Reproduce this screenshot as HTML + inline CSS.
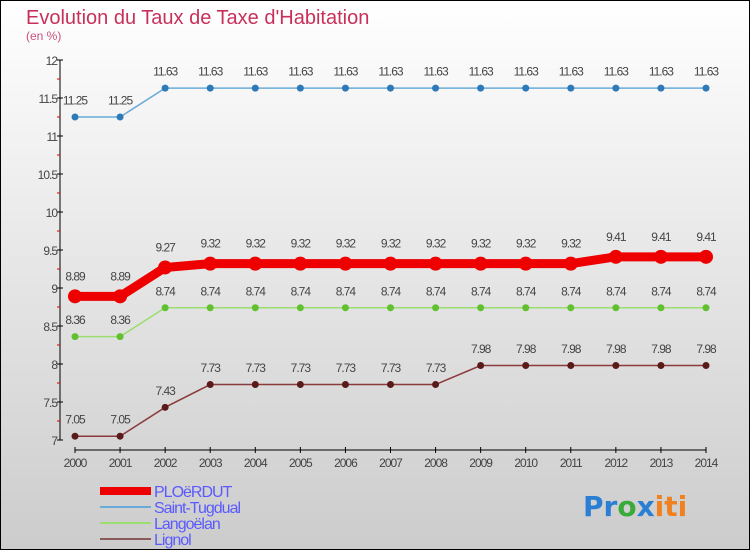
<!DOCTYPE html>
<html><head><meta charset="utf-8">
<style>
html,body{margin:0;padding:0}
body{width:750px;height:550px;overflow:hidden;font-family:"Liberation Sans",sans-serif}
</style></head>
<body>
<svg width="750" height="550" xmlns="http://www.w3.org/2000/svg" id="svg">
<defs>
<linearGradient id="bg" x1="0" y1="0" x2="0" y2="1">
<stop offset="0" stop-color="#ffffff"/><stop offset="1" stop-color="#cccccc"/>
</linearGradient>
</defs>
<rect x="0.5" y="0.5" width="749" height="549" fill="url(#bg)" stroke="#000"/>
<text x="26" y="24" font-size="20" fill="#c8305c">Evolution du Taux de Taxe d'Habitation</text>
<text x="26" y="40" font-size="12" fill="#c8507c">(en %)</text>
<g id="axes"></g>
<g id="series"></g>
<g id="legend"></g>
<text x="583" y="516" font-size="28" font-weight="bold" font-family="DejaVu Sans, sans-serif"><tspan fill="#2a7fd4">Pr</tspan><tspan fill="#3aaa3a">o</tspan><tspan fill="#2a7fd4">x</tspan><tspan fill="#f08020">iti</tspan></text>
</svg>
<script>
const years=[2000,2001,2002,2003,2004,2005,2006,2007,2008,2009,2010,2011,2012,2013,2014];
const yTicks=[7,7.5,8,8.5,9,9.5,10,10.5,11,11.5,12];
const seriesNames=["PLOëRDUT","Saint-Tugdual","Langoëlan","Lignol"];
const ploerdut=[8.89,8.89,9.27,9.32,9.32,9.32,9.32,9.32,9.32,9.32,9.32,9.32,9.41,9.41,9.41];
const saintTugdual=[11.25,11.25,11.63,11.63,11.63,11.63,11.63,11.63,11.63,11.63,11.63,11.63,11.63,11.63,11.63];
const langoelan=[8.36,8.36,8.74,8.74,8.74,8.74,8.74,8.74,8.74,8.74,8.74,8.74,8.74,8.74,8.74];
const lignol=[7.05,7.05,7.43,7.73,7.73,7.73,7.73,7.73,7.73,7.98,7.98,7.98,7.98,7.98,7.98];

const NS="http://www.w3.org/2000/svg";
const x=i=>75+i*(706-75)/(years.length-1);
const y=v=>440-(v-7)*76;
function mk(tag,attrs,parent){const e=document.createElementNS(NS,tag);for(const k in attrs)e.setAttribute(k,attrs[k]);parent.appendChild(e);return e;}
const axes=document.getElementById('axes');
let e=mk('line',{x1:60,y1:y(12),x2:60,y2:y(7),stroke:'#000','stroke-width':1},axes);


for(let v=7.25;v<12;v+=0.5){
 e=mk('line',{x1:57,y1:y(v),x2:60,y2:y(v),stroke:'#d00'},axes);
 
 
}
yTicks.forEach(v=>{
 e=mk('line',{x1:57,y1:y(v),x2:63,y2:y(v),stroke:'#000'},axes);
 
 
 e=mk('text',{x:57,y:y(v)+5,'text-anchor':'end','font-size':12,fill:'#444','letter-spacing':'-1'},axes);
 e.textContent=String(v);
 
 
});
e=mk('line',{x1:75,y1:450,x2:706,y2:450,stroke:'#000'},axes);


years.forEach((yr,i)=>{
 e=mk('line',{x1:x(i),y1:447,x2:x(i),y2:453,stroke:'#000'},axes);
 
 
 e=mk('text',{x:x(i),y:467,'text-anchor':'middle','font-size':12,fill:'#444','letter-spacing':'-1'},axes);
 e.textContent=yr;
 
 
});
const ser=document.getElementById('series');
const defs=[
 {d:saintTugdual,c:'#6aaad8',dot:'#2e7ab8',w:1.5,r:3.5,n:'saint-tugdual'},
 {d:langoelan,c:'#9ade70',dot:'#60c030',w:1.5,r:3.5,n:'langoelan'},
 {d:lignol,c:'#8a3a3a',dot:'#5a1a1a',w:1.5,r:3.5,n:'lignol'},
 {d:ploerdut,c:'#ee0000',dot:'#ee0000',w:9,r:7,n:'ploerdut'}
];
defs.forEach(s=>{
 const g=mk('g',{},ser);
 
 
 e=mk('polyline',{points:s.d.map((v,i)=>x(i)+','+y(v)).join(' '),fill:'none',stroke:s.c,'stroke-width':s.w},g);
 
 
 s.d.forEach((v,i)=>{
  e=mk('circle',{cx:x(i),cy:y(v),r:s.r,fill:s.dot},g);
  
  
  e=mk('text',{x:x(i),y:y(v)-(s.r+9),'text-anchor':'middle','font-size':12,fill:'#444','letter-spacing':'-1'},g);
  e.textContent=String(v);
  
  
 });
});
const leg=document.getElementById('legend');
const legCols=['#ee0000','#6aaad8','#9ade70','#8a5a5a'];
const legW=[8,2,2,2];
seriesNames.forEach((n,i)=>{
 const yy=491+i*16;
 e=mk('line',{x1:100,y1:yy,x2:151,y2:yy,stroke:legCols[i],'stroke-width':legW[i]},leg);
 
 
 e=mk('text',{x:154,y:yy+6,'font-size':16,fill:'#5a5aff','letter-spacing':'-1'},leg);
 e.textContent=n;
 
 
});
</script>
</body></html>
